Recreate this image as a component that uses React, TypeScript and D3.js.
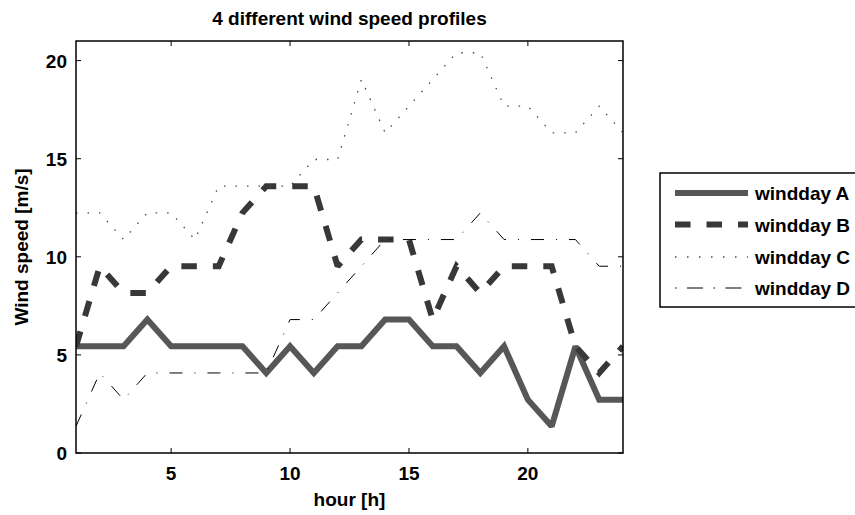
import React from "react";
import * as d3 from "d3";

// Hourly wind speed profiles [m/s] for hours 1..24
const hours: number[] = [1, 2, 3, 4, 5, 6, 7, 8, 9, 10, 11, 12, 13, 14, 15, 16, 17, 18, 19, 20, 21, 22, 23, 24];
const winddayA: number[] = [5.44, 5.44, 5.44, 6.8, 5.44, 5.44, 5.44, 5.44, 4.08, 5.44, 4.08, 5.44, 5.44, 6.8, 6.8, 5.44, 5.44, 4.08, 5.44, 2.72, 1.36, 5.44, 2.72, 2.72];
const winddayB: number[] = [5.44, 9.52, 8.16, 8.16, 9.52, 9.52, 9.52, 12.24, 13.6, 13.6, 13.6, 9.52, 10.88, 10.88, 10.88, 6.8, 9.52, 8.16, 9.52, 9.52, 9.52, 5.44, 4.08, 5.44];
const winddayC: number[] = [12.24, 12.24, 10.88, 12.24, 12.24, 10.88, 13.6, 13.6, 13.6, 13.6, 14.96, 14.96, 19.04, 16.32, 17.68, 19.04, 20.4, 20.4, 17.68, 17.68, 16.32, 16.32, 17.68, 16.32];
const winddayD: number[] = [1.36, 4.08, 2.72, 4.08, 4.08, 4.08, 4.08, 4.08, 4.08, 6.8, 6.8, 8.16, 9.52, 10.88, 10.88, 10.88, 10.88, 12.24, 10.88, 10.88, 10.88, 10.88, 9.52, 9.52];

const seriesNames: string[] = ["windday A", "windday B", "windday C", "windday D"];
const xTicks: number[] = [5, 10, 15, 20];
const yTicks: number[] = [0, 5, 10, 15, 20];

const W = 855;
const H = 515;
const left = 76;
const right = 623;
const top = 41;
const bottom = 453;
const font = "'Liberation Sans', Arial, Helvetica, sans-serif";
const fs = 19;

const styles = [
  { stroke: "#575757", width: 6, dash: undefined as string | undefined, legendDash: undefined as string | undefined },
  { stroke: "#383838", width: 6, dash: "15.5,16", legendDash: "15.5,16" },
  { stroke: "#2c5454", width: 1.3, dash: "1.5,10", legendDash: "1.5,10.5" },
  { stroke: "#000000", width: 1, dash: "13,12,1,12", legendDash: "1.5,10.5,16,10.5" },
];

export default function App() {
  const x = d3.scaleLinear().domain([1, 24]).range([left, right]);
  const y = d3.scaleLinear().domain([0, 21]).range([bottom, top]);
  const allSeries = [winddayA, winddayB, winddayC, winddayD];
  const line = d3
    .line<number>()
    .x((_, i) => x(hours[i]))
    .y((v) => y(v));

  const tickLen = 5;
  const legendX = 660;
  const legendTop = 173;
  const legendRows = [193, 224.5, 257, 288];

  return (
    <svg
      width={W}
      height={H}
      style={{ position: "absolute", left: 0, top: 0, background: "#fff" }}
      fontFamily={font}
      fontWeight="bold"
    >
      <defs>
        <clipPath id="plotArea">
          <rect x={left} y={top} width={right - left} height={bottom - top} />
        </clipPath>
      </defs>
      <rect x={0} y={0} width={W} height={H} fill="#fff" />

      <text x={(left + right) / 2} y={25} textAnchor="middle" fontSize={fs}>
        4 different wind speed profiles
      </text>

      <g clipPath="url(#plotArea)">
        {allSeries.map((s, k) => (
          <path
            key={seriesNames[k]}
            d={line(s) ?? ""}
            fill="none"
            stroke={styles[k].stroke}
            strokeWidth={styles[k].width}
            strokeDasharray={styles[k].dash}
            strokeLinecap="butt"
            strokeLinejoin="miter"
            strokeMiterlimit={2}
          />
        ))}
      </g>

      {/* axes box with inward ticks */}
      <rect x={left} y={top} width={right - left} height={bottom - top} fill="none" stroke="#000" strokeWidth={1.5} />
      {xTicks.map((t) => (
        <g key={"x" + t}>
          <line x1={x(t)} x2={x(t)} y1={bottom} y2={bottom - tickLen} stroke="#000" strokeWidth={1} />
          <line x1={x(t)} x2={x(t)} y1={top} y2={top + tickLen} stroke="#000" strokeWidth={1} />
          <text x={x(t)} y={480} textAnchor="middle" fontSize={fs}>
            {t}
          </text>
        </g>
      ))}
      {yTicks.map((t) => (
        <g key={"y" + t}>
          <line x1={left} x2={left + tickLen} y1={y(t)} y2={y(t)} stroke="#000" strokeWidth={1} />
          <line x1={right} x2={right - tickLen} y1={y(t)} y2={y(t)} stroke="#000" strokeWidth={1} />
          <text x={67} y={y(t) + 7} textAnchor="end" fontSize={fs}>
            {t}
          </text>
        </g>
      ))}

      <text x={(left + right) / 2} y={506} textAnchor="middle" fontSize={fs}>
        hour [h]
      </text>
      <text
        transform={`translate(28,${(top + bottom) / 2}) rotate(-90)`}
        textAnchor="middle"
        fontSize={fs}
      >
        Wind speed [m/s]
      </text>

      {/* legend */}
      <rect x={legendX} y={legendTop} width={220} height={134} fill="#fff" stroke="#000" strokeWidth={1.5} />
      {seriesNames.map((name, k) => (
        <g key={"lg" + name}>
          <line
            x1={675}
            x2={748}
            y1={legendRows[k]}
            y2={legendRows[k]}
            stroke={styles[k].stroke}
            strokeWidth={styles[k].width}
            strokeDasharray={styles[k].legendDash}
          />
          <text x={755} y={legendRows[k] + 7} fontSize={fs}>
            {name}
          </text>
        </g>
      ))}
    </svg>
  );
}
